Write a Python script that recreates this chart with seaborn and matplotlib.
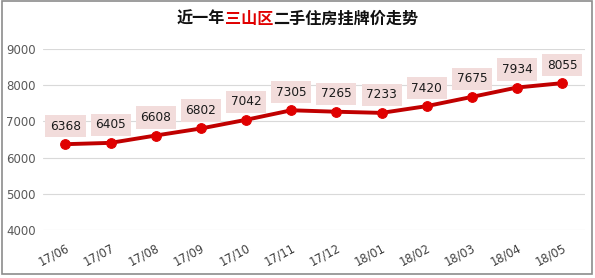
import matplotlib
matplotlib.use("Agg")
import matplotlib.pyplot as plt
import seaborn as sns
import pandas as pd
from matplotlib.patches import Rectangle

months = ["17/06", "17/07", "17/08", "17/09", "17/10", "17/11",
          "17/12", "18/01", "18/02", "18/03", "18/04", "18/05"]
prices = [6368, 6405, 6608, 6802, 7042, 7305, 7265, 7233, 7420, 7675, 7934, 8055]
y_ticks = [4000, 5000, 6000, 7000, 8000, 9000]
title_parts = ["近一年", "三山区", "二手住房挂牌价走势"]

sns.set_theme(style="white")
plt.rcParams['font.family'] = ['Noto Sans CJK SC', 'DejaVu Sans']

fig = plt.figure(figsize=(5.95, 2.78), dpi=100)
ax = fig.add_axes([0.072, 0.173, 0.911, 0.651])

df = pd.DataFrame({"month": months, "price": prices})
sns.lineplot(data=df, x="month", y="price", ax=ax, sort=False,
             color="#c00000", linewidth=2.8, marker="o", markersize=7,
             markerfacecolor="#e00000", markeredgecolor="#e00000")

ax.set_xlim(-0.5, len(months) - 0.5)
ax.set_ylim(y_ticks[0], y_ticks[-1])
ax.set_yticks(y_ticks)
ax.set_yticklabels([str(t) for t in y_ticks], fontsize=8.5, color="#595959",
                   family=['DejaVu Sans'])
ax.set_xticks(range(len(months)))
ax.set_xticklabels(months, rotation=28, ha="right", rotation_mode="anchor",
                   fontsize=8.3, color="#404040", family=['DejaVu Sans'])
ax.tick_params(axis="both", length=0, pad=5)
ax.tick_params(axis="x", pad=8)
ax.set_xlabel("")
ax.set_ylabel("")
ax.grid(axis="y", color="#d9d9d9", linewidth=0.8)
ax.set_axisbelow(True)
for s in ax.spines.values():
    s.set_visible(False)

for i, v in enumerate(prices):
    ax.annotate(str(v), (i, v), xytext=(0, 18), textcoords="offset pixels",
                ha="center", va="center", fontsize=8.7, color="#1a1a1a",
                family=['DejaVu Sans'],
                bbox=dict(boxstyle="square,pad=0.38", fc="#f2dcdb", ec="none"))

# title with coloured middle part
ty = 1 - 19 / 278
fs = 11.6
t1 = fig.text(0.297, ty, title_parts[0], fontsize=fs, fontweight="bold",
              color="#111111", ha="left", va="center")
t2 = fig.text(0, 0, title_parts[1], fontsize=fs, fontweight="bold", color="#e00000")
t3 = fig.text(0, 0, title_parts[2], fontsize=fs, fontweight="bold", color="#111111")
fig.canvas.draw()
r = fig.canvas.get_renderer()
bb1 = t1.get_window_extent(r)
t2.set_position(((bb1.x1) / fig.bbox.width, ty)); t2.set_va("center"); t2.set_ha("left")
fig.canvas.draw()
bb2 = t2.get_window_extent(r)
t3.set_position(((bb2.x1) / fig.bbox.width, ty)); t3.set_va("center"); t3.set_ha("left")

fig.patches.append(Rectangle((0.004, 0.016), 0.991, 0.98, transform=fig.transFigure,
                             fill=False, edgecolor="#8c8c8c", linewidth=1.2))

fig.savefig("out.png", dpi=100)
